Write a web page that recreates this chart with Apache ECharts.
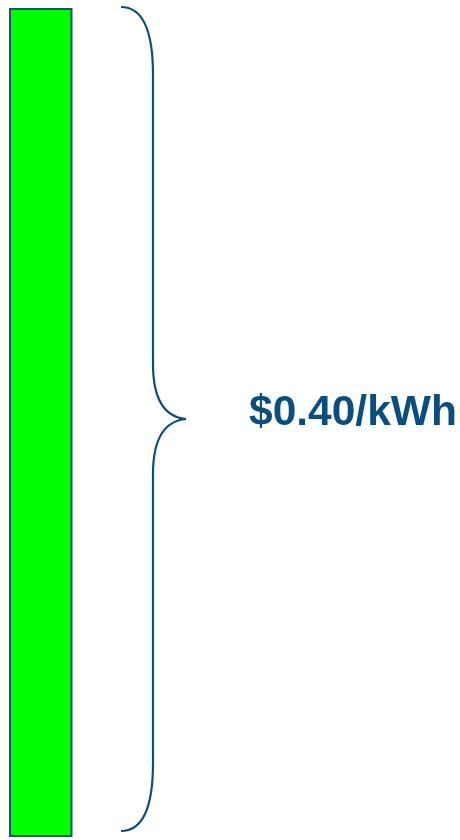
<!DOCTYPE html>
<html><head><meta charset="utf-8">
<script src="https://cdn.jsdelivr.net/npm/echarts@6/dist/echarts.min.js"></script>
<style>html,body{margin:0;padding:0;background:#fff}#c{width:460px;height:840px}</style>
</head><body><div id="c"></div>
<script>
const categories = ['Cost'];
const values = [0.40];
const labels = ['$0.40/kWh'];

const chart = echarts.init(document.getElementById('c'), null, {renderer: 'canvas'});
chart.setOption({
  animation: false,
  grid: {left: 9, width: 63.5, top: 8, bottom: 3, containLabel: false},
  xAxis: {type: 'category', data: categories, show: false},
  yAxis: {type: 'value', min: 0, max: 0.40, show: false},
  series: [{
    type: 'bar', data: values, barWidth: '100%',
    itemStyle: {color: '#00FF00', borderColor: '#1F4E79', borderWidth: 2}
  }]
});
const yTop = chart.convertToPixel({yAxisIndex: 0}, values[0]);
const yBot = chart.convertToPixel({yAxisIndex: 0}, 0);
const t = yTop - 1, b = yBot - 6, m = (t + b) / 2;
const xL = 121, xV = 153, xT = 186;
const ls = {stroke: '#0B4F80', lineWidth: 2.2, fill: null};
function bz(x1, y1, cx1, cy1, cx2, cy2, x2, y2) {
  return {type: 'bezierCurve', shape: {x1, y1, cpx1: cx1, cpy1: cy1, cpx2: cx2, cpy2: cy2, x2, y2}, style: ls};
}
function ln(x1, y1, x2, y2) {
  return {type: 'line', shape: {x1, y1, x2, y2}, style: ls};
}
chart.setOption({
  graphic: [
    bz(xL, t, xL + 22, t, xV, t + 23, xV, t + 68),
    ln(xV, t + 68, xV, m - 55),
    bz(xV, m - 55, xV, m - 20, xV + 12, m - 2, xT, m),
    bz(xT, m, xV + 12, m + 2, xV, m + 20, xV, m + 55),
    ln(xV, m + 55, xV, b - 68),
    bz(xV, b - 68, xV, b - 23, xL + 22, b, xL, b),
    {type: 'text', x: 249, y: m - 6, style: {text: labels[0], fill: '#0A4E80', font: 'bold 42.5px "Liberation Sans", Arial, sans-serif', textVerticalAlign: 'middle', textAlign: 'left'}}
  ]
});
</script></body></html>
